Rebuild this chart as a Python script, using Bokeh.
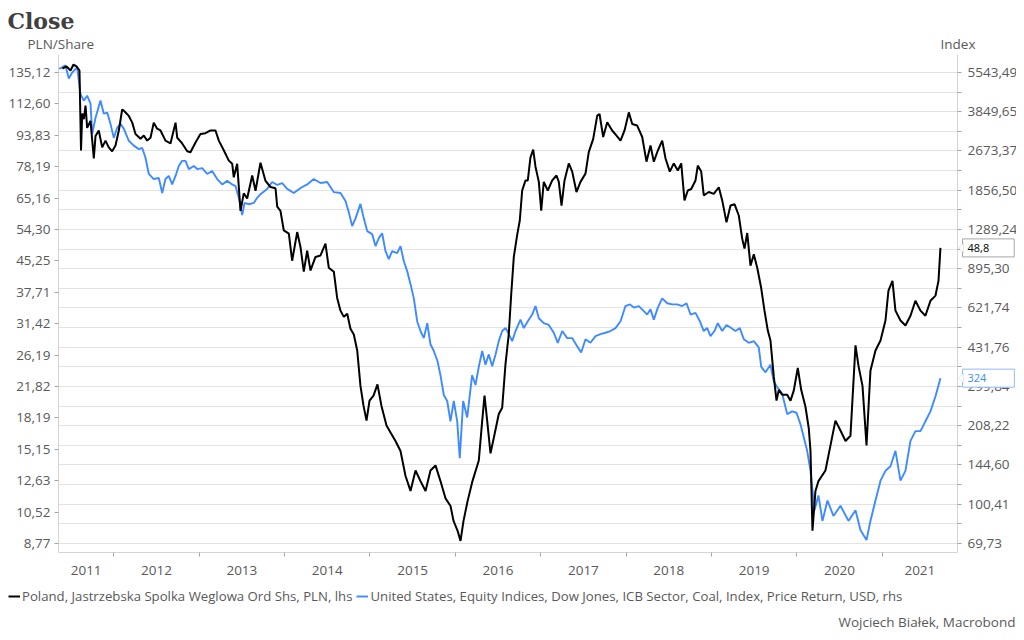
import math
from bokeh.plotting import figure
from bokeh.models import (Range1d, LogScale, LogAxis, FixedTicker, CustomJSTickFormatter,
                          Grid, Label, Legend, LegendItem, PolyAnnotation)
from bokeh.embed import file_html
from bokeh.resources import INLINE

# ---------------- data (decimal years, values) ----------------
jsw_t = [2011.399, 2011.446, 2011.493, 2011.528, 2011.563, 2011.598, 2011.616, 2011.630, 2011.649, 2011.669,
         2011.688, 2011.727, 2011.766, 2011.786, 2011.824, 2011.864, 2011.903, 2011.941, 2011.981, 2012.020,
         2012.059, 2012.098, 2012.117, 2012.149, 2012.176, 2012.216, 2012.254, 2012.313, 2012.351, 2012.391,
         2012.430, 2012.468, 2012.508, 2012.547, 2012.605, 2012.664, 2012.723, 2012.743, 2012.801, 2012.860,
         2012.898, 2012.957, 2013.015, 2013.074, 2013.133, 2013.191, 2013.230, 2013.288, 2013.347, 2013.387,
         2013.405, 2013.445, 2013.484, 2013.522, 2013.562, 2013.621, 2013.660, 2013.718, 2013.777, 2013.835,
         2013.894, 2013.914, 2013.952, 2013.991, 2014.050, 2014.089, 2014.148, 2014.187, 2014.225, 2014.265,
         2014.304, 2014.362, 2014.421, 2014.479, 2014.518, 2014.577, 2014.616, 2014.655, 2014.694, 2014.734,
         2014.772, 2014.811, 2014.851, 2014.889, 2014.925, 2014.960, 2014.995, 2015.042, 2015.088, 2015.135,
         2015.194, 2015.241, 2015.299, 2015.358, 2015.416, 2015.475, 2015.534, 2015.592, 2015.651, 2015.709,
         2015.768, 2015.826, 2015.885, 2015.944, 2015.979, 2016.026, 2016.061, 2016.096, 2016.143, 2016.201,
         2016.275, 2016.315, 2016.342, 2016.373, 2016.412, 2016.451, 2016.509, 2016.549, 2016.588, 2016.626,
         2016.655, 2016.685, 2016.725, 2016.755, 2016.783, 2016.822, 2016.849, 2016.880, 2016.912, 2016.939,
         2016.978, 2017.006, 2017.036, 2017.083, 2017.135, 2017.185, 2017.212, 2017.244, 2017.279, 2017.329,
         2017.369, 2017.419, 2017.466, 2017.525, 2017.563, 2017.615, 2017.662, 2017.689, 2017.732, 2017.779,
         2017.837, 2017.888, 2017.935, 2017.982, 2018.032, 2018.072, 2018.130, 2018.189, 2018.239, 2018.286,
         2018.325, 2018.372, 2018.423, 2018.462, 2018.512, 2018.559, 2018.606, 2018.646, 2018.684, 2018.723,
         2018.763, 2018.813, 2018.840, 2018.880, 2018.910, 2018.969, 2019.027, 2019.086, 2019.126, 2019.176,
         2019.223, 2019.270, 2019.320, 2019.360, 2019.387, 2019.419, 2019.457, 2019.496, 2019.536, 2019.583,
         2019.621, 2019.660, 2019.691, 2019.730, 2019.762, 2019.789, 2019.828, 2019.887, 2019.926, 2019.964,
         2020.011, 2020.051, 2020.101, 2020.140, 2020.160,
         2020.183, 2020.218, 2020.253, 2020.335, 2020.394, 2020.452, 2020.511, 2020.570, 2020.628, 2020.687,
         2020.722, 2020.769, 2020.816, 2020.862, 2020.921, 2020.980, 2021.038, 2021.073, 2021.120, 2021.155,
         2021.214, 2021.272, 2021.331, 2021.389, 2021.448, 2021.506, 2021.565, 2021.624, 2021.659, 2021.682]
jsw_v = [138.3, 140.0, 136.7, 141.5, 140.0, 136.7, 85.9, 106.5, 103.0, 111.5,
         98.0, 102.0, 82.0, 93.5, 96.5, 87.5, 91.0, 87.5, 85.5, 88.4,
         96.5, 109.0, 108.3, 106.5, 105.0, 101.0, 94.5, 92.0, 93.7, 91.0,
         92.5, 101.0, 97.5, 96.5, 91.0, 89.5, 101.0, 92.5, 89.5, 85.5,
         85.0, 90.0, 94.5, 95.0, 96.5, 96.5, 91.0, 86.0, 81.0, 79.5,
         73.5, 79.5, 60.5, 67.0, 65.0, 74.3, 68.0, 80.0, 72.0, 69.5,
         69.0, 62.0, 60.5, 54.0, 53.0, 45.3, 53.5, 49.0, 42.5, 48.0,
         42.8, 46.3, 46.7, 50.0, 43.5, 42.5, 36.5, 33.9, 32.7, 33.3,
         30.5, 29.5, 26.9, 21.9, 19.5, 17.9, 20.1, 20.7, 22.1, 19.5,
         17.4, 16.7, 15.9, 15.0, 13.0, 11.9, 13.4, 12.6, 11.9, 13.4,
         13.8, 12.6, 11.4, 10.9, 10.0, 9.45, 8.9, 10.0, 11.2, 12.6,
         14.2, 17.9, 20.7, 17.9, 14.8, 16.2, 18.6, 19.3, 24.9, 29.6,
         37.4, 46.3, 52.7, 57.2, 68.1, 72.2, 72.2, 82.5, 86.4, 78.2,
         71.6, 60.6, 71.6, 68.1, 72.2, 74.3, 71.6, 62.4, 72.2, 79.7,
         76.0, 67.5, 71.6, 75.2, 85.1, 91.9, 105.2, 106.2, 92.9, 101.2,
         96.5, 93.7, 91.0, 96.5, 107.2, 100.2, 99.3, 92.9, 80.5, 88.4,
         80.5, 85.9, 91.0, 82.0, 76.0, 79.7, 76.5, 79.7, 64.3, 68.1,
         68.7, 72.2, 78.7, 76.0, 66.2, 67.5, 66.8, 69.4, 64.3, 56.6,
         62.4, 62.9, 58.9, 51.5, 48.6, 53.2, 44.0, 47.0, 43.5, 38.6,
         33.9, 30.2, 28.5, 23.1, 20.1, 21.4, 20.8, 20.8, 20.1, 21.3,
         24.3, 21.4, 19.4, 17.1, 15.0,
         9.45, 11.9, 12.6, 13.4, 15.5, 17.9, 16.9, 15.9, 16.4, 27.7,
         24.6, 21.9, 15.5, 23.9, 26.9, 28.5, 32.0, 38.1, 40.3, 33.9,
         32.0, 31.1, 32.9, 35.9, 33.9, 32.9, 35.9, 37.0, 40.3, 48.8]

coal_t = [2011.352, 2011.376, 2011.434, 2011.473, 2011.513, 2011.571, 2011.610, 2011.649, 2011.688, 2011.727,
          2011.747, 2011.786, 2011.844, 2011.883, 2011.923, 2011.961, 2012.000, 2012.040, 2012.078, 2012.117,
          2012.176, 2012.234, 2012.293, 2012.333, 2012.371, 2012.410, 2012.468, 2012.527, 2012.567, 2012.605,
          2012.644, 2012.684, 2012.723, 2012.761, 2012.801, 2012.840, 2012.879, 2012.937, 2012.977, 2013.035,
          2013.094, 2013.152, 2013.211, 2013.270, 2013.328, 2013.387, 2013.425, 2013.464, 2013.504, 2013.531,
          2013.581, 2013.640, 2013.679, 2013.718, 2013.796, 2013.855, 2013.914, 2013.972, 2014.031, 2014.108,
          2014.187, 2014.265, 2014.342, 2014.421, 2014.499, 2014.576, 2014.655, 2014.714, 2014.752, 2014.792,
          2014.831, 2014.889, 2014.928, 2014.968, 2015.026, 2015.065, 2015.104, 2015.143, 2015.182, 2015.221,
          2015.260, 2015.319, 2015.358, 2015.397, 2015.436, 2015.475, 2015.514, 2015.553, 2015.592, 2015.631,
          2015.671, 2015.709, 2015.748, 2015.791,
          2015.826, 2015.865, 2015.905, 2015.943, 2015.982, 2016.022, 2016.052, 2016.092, 2016.139, 2016.197,
          2016.236, 2016.275, 2016.315, 2016.353, 2016.392, 2016.432, 2016.471, 2016.509, 2016.549, 2016.588,
          2016.626, 2016.666, 2016.705, 2016.763, 2016.802, 2016.849, 2016.900, 2016.939, 2016.978, 2017.036,
          2017.095, 2017.153, 2017.200, 2017.252, 2017.310, 2017.369, 2017.427, 2017.474, 2017.525, 2017.583,
          2017.642, 2017.700, 2017.759, 2017.817, 2017.876, 2017.935, 2017.993, 2018.044, 2018.091, 2018.149,
          2018.208, 2018.247, 2018.286, 2018.325, 2018.372, 2018.423, 2018.482, 2018.540, 2018.599, 2018.657,
          2018.708, 2018.755, 2018.813, 2018.864, 2018.910, 2018.950, 2018.989, 2019.035, 2019.074, 2019.126,
          2019.176, 2019.231, 2019.281, 2019.332, 2019.379, 2019.437, 2019.496, 2019.554, 2019.583, 2019.633,
          2019.691, 2019.730, 2019.770, 2019.828, 2019.887, 2019.945, 2019.996, 2020.043, 2020.081, 2020.121,
          2020.160, 2020.207, 2020.253, 2020.300, 2020.359, 2020.429, 2020.511, 2020.605, 2020.687, 2020.745,
          2020.816, 2020.862, 2020.921, 2020.980, 2021.038, 2021.097, 2021.155, 2021.214, 2021.272, 2021.331,
          2021.389, 2021.448, 2021.506, 2021.565, 2021.624, 2021.682]
coal_v = [5760, 5760, 5920, 5240, 5543, 5810, 4540, 4270, 4470, 4150,
          3140, 3640, 4270, 3780, 3820, 3440, 3020, 3320, 3440, 3290,
          2940, 2810, 2720, 2750, 2510, 2160, 2060, 2080, 1810, 2060,
          2120, 1960, 2120, 2325, 2440, 2440, 2260, 2325, 2260, 2280,
          2160, 2220, 2060, 1960, 2025, 1960, 1930, 1730, 1475, 1650,
          1630, 1650, 1730, 1790, 1880, 2005, 1950, 1985, 1880, 1810,
          1895, 1960, 2060, 1985, 2005, 1825, 1810, 1680, 1515, 1330,
          1430, 1635, 1430, 1270, 1235, 1105, 1190, 1245, 1055, 980,
          1055, 1035, 1105, 960, 876, 776, 680, 550, 502, 470,
          540, 444, 417, 380,
          333, 277, 262, 217, 262, 217, 154, 262, 225, 333,
          304, 360, 417, 367, 404, 362, 404, 457, 502, 516,
          488, 457, 502, 558, 516, 550, 585, 633, 565, 540,
          531, 494, 450, 502, 470, 470, 436, 411, 465, 450,
          479, 488, 494, 502, 516, 550, 633, 643, 624, 633,
          604, 585, 614, 558, 624, 680, 650, 643, 643, 633,
          650, 585, 594, 550, 502, 516, 479, 502, 540, 502,
          531, 516, 502, 516, 465, 450, 457, 431, 360, 342,
          367, 315, 298, 281, 232, 238, 235, 211, 187, 165,
          137, 95, 109, 86, 104, 90, 99, 86, 95, 79,
          72, 86, 104, 125, 137, 143, 165, 125, 137, 181,
          198, 198, 217, 238, 274, 324]

lhs_ticks = [8.77, 10.52, 12.63, 15.15, 18.19, 21.82, 26.19, 31.42, 37.71, 45.25,
             54.30, 65.16, 78.19, 93.83, 112.60, 135.12]
rhs_ticks = [69.73, 100.41, 144.60, 208.22, 299.84, 431.76, 621.74, 895.30, 1289.24,
             1856.50, 2673.37, 3849.65, 5543.49]
years = list(range(2011, 2022))

title_text = "Close"
lhs_unit = "PLN/Share"
rhs_unit = "Index"
jsw_name = "Poland, Jastrzebska Spolka Weglowa Ord Shs, PLN, lhs"
coal_name = "United States, Equity Indices, Dow Jones, ICB Sector, Coal, Index, Price Return, USD, rhs"
source_text = "Wojciech Białek, Macrobond"

# ---------------- styling / geometry ----------------
BLUE = "#3D8BFF"
GRID = "#E3E3E3"
AXIS = "#D4D4D4"
TICK = "#A6A6A6"
TXT = "#595959"
FONT = "Open Sans"
FS = "13.5px"

W, H = 1016, 632
PL, PR, PT, PB = 58.0, 957.0, 54.0, 552.0      # plot box (pixels)

# pixel calibration of the scales
def px_to_t(px):
    return 2012.0 + (px - 113.3) / 85.38

L_SPAN = (72.0, 543.0)

def px_to_log(px, top_v, bot_v):
    a, b = math.log10(top_v), math.log10(bot_v)
    return 10 ** (a + (px - L_SPAN[0]) * (b - a) / (L_SPAN[1] - L_SPAN[0]))

def log_to_px(v, top_v, bot_v):
    a, b = math.log10(top_v), math.log10(bot_v)
    return L_SPAN[0] + (math.log10(v) - a) / (b - a) * (L_SPAN[1] - L_SPAN[0])

def lv(px):
    return px_to_log(px, lhs_ticks[-1], lhs_ticks[0])

def rv(px):
    return px_to_log(px, rhs_ticks[-1], rhs_ticks[0])

n1 = min(len(jsw_t), len(jsw_v))
n2 = min(len(coal_t), len(coal_v))

p = figure(width=W, height=H, output_backend="svg", toolbar_location=None,
           x_range=Range1d(px_to_t(0), px_to_t(W)), y_range=Range1d(lv(H), lv(0)),
           y_axis_type="log", min_border=0, min_border_left=0, min_border_right=0,
           min_border_top=0, min_border_bottom=0)
p.extra_y_ranges = {"rhs": Range1d(rv(H), rv(0))}
p.extra_y_scales = {"rhs": LogScale()}
p.title.visible = False
p.outline_line_color = None
p.background_fill_color = "white"
p.border_fill_color = "white"
p.xgrid.visible = False
p.ygrid.visible = False

# left axis (fixed inside the canvas)
la = p.yaxis[0]
la.ticker = FixedTicker(ticks=lhs_ticks)
la.formatter = CustomJSTickFormatter(code="return tick.toFixed(2).replace('.', ',');")
la.fixed_location = px_to_t(PL)
la.bounds = (lv(PB), lv(PT))

# right axis
rhs_minor = [(a * b) ** 0.5 for a, b in zip(rhs_ticks[:-1], rhs_ticks[1:])]
ra = LogAxis(y_range_name="rhs", ticker=FixedTicker(ticks=rhs_ticks, minor_ticks=rhs_minor),
             formatter=CustomJSTickFormatter(code="return tick.toFixed(2).replace('.', ',');"))
ra.fixed_location = px_to_t(PR)
ra.bounds = (rv(PB), rv(PT))
p.add_layout(ra, "right")

for ax in (la, ra):
    ax.axis_line_color = AXIS
    ax.major_tick_line_color = TICK
    ax.minor_tick_line_color = TICK
    ax.major_tick_in = 0
    ax.major_tick_out = 4
    ax.minor_tick_in = 0
    ax.major_label_text_font = FONT
    ax.major_label_text_font_size = FS
    ax.major_label_text_color = TXT
la.minor_tick_out = 0
la.major_label_standoff = 4
ra.minor_tick_out = 4
ra.major_label_standoff = 6

# x axis: year boundaries as ticks, labels centred in the visible part of each year
xa = p.xaxis[0]
x0, x1 = px_to_t(PL), px_to_t(PR)
bounds = [float(y) for y in years[1:]]
edges = [x0] + bounds + [x1]
centers = [(a + b) / 2 for a, b in zip(edges[:-1], edges[1:])]
xa.ticker = FixedTicker(ticks=centers, minor_ticks=bounds)
xa.formatter = CustomJSTickFormatter(code="return Math.floor(tick).toString();")
xa.fixed_location = lv(PB)
xa.bounds = (x0, x1)
xa.axis_line_color = AXIS
xa.major_tick_in = 0
xa.major_tick_out = 0
xa.minor_tick_in = 0
xa.minor_tick_out = 4
xa.minor_tick_line_color = TICK
xa.major_label_standoff = 9
xa.major_label_text_font = FONT
xa.major_label_text_font_size = FS
xa.major_label_text_color = TXT

# gridlines follow the right axis (major + minor)
grid = Grid(dimension=1, y_range_name="rhs",
            ticker=FixedTicker(ticks=sorted(rhs_ticks + rhs_minor)),
            grid_line_color=GRID, grid_line_width=1)
try:
    grid.cross_bounds = (x0, x1)
except Exception:
    pass
p.add_layout(grid)

# series
r_coal = p.line(coal_t[:n2], coal_v[:n2], line_color=BLUE, line_width=1.9, y_range_name="rhs")
r_jsw = p.line(jsw_t[:n1], jsw_v[:n1], line_color="black", line_width=2)

# ---------------- texts ----------------
def lab(text, px, py, **kw):
    opts = dict(x=px, y=H - py, x_units="screen", y_units="screen", text=text,
                text_font=FONT, text_font_size=FS, text_color=TXT, text_baseline="middle")
    opts.update(kw)
    p.add_layout(Label(**opts))

lab(title_text, 7, 20, text_font="DejaVu Serif", text_font_style="bold",
    text_font_size="22px", text_color="#404040")
lab(lhs_unit, 27, 43)
lab(rhs_unit, 940, 43)
lab(source_text, 1015, 621, text_align="right")

# value callouts at right edge (box with a small pointer towards the axis)
def callout(val, txt, color, border, rng, py):
    kw = dict(x=x1, y=val, x_offset=5, text=txt, text_font=FONT, text_font_size="11px",
              text_color=color, text_baseline="middle", background_fill_color="white",
              border_line_color=border, border_line_width=1)
    if rng:
        kw["y_range_name"] = rng
    lbl = Label(**kw)
    tw = sum(6.3 if ch.isdigit() else 2.8 for ch in txt)
    right = int(round(W - 2 - (PR + 10) - tw))
    for pad in ((5, right, 5, 5), dict(left=5, right=right, top=5, bottom=5), 5):
        try:
            lbl.padding = pad
            break
        except Exception:
            continue
    p.add_layout(lbl)
    try:
        p.add_layout(PolyAnnotation(xs=[PR + 6, PR + 1, PR + 6], ys=[H - py + 5, H - py, H - py - 5],
                                    xs_units="screen", ys_units="screen",
                                    fill_color="white", fill_alpha=1.0,
                                    line_color=border, line_width=1))
    except Exception:
        pass

callout(jsw_v[n1 - 1], f"{jsw_v[n1 - 1]:.1f}".replace(".", ","), "black", "#A6A6A6", None,
        log_to_px(jsw_v[n1 - 1], lhs_ticks[-1], lhs_ticks[0]))
callout(coal_v[n2 - 1], f"{coal_v[n2 - 1]:.0f}", BLUE, "#8DBBFF", "rhs",
        log_to_px(coal_v[n2 - 1], rhs_ticks[-1], rhs_ticks[0]))

# legend below the plot
legend = Legend(items=[LegendItem(label=jsw_name, renderers=[r_jsw]),
                       LegendItem(label=coal_name, renderers=[r_coal])],
                orientation="horizontal", location=(8, H - 596 - 9),
                glyph_width=12, glyph_height=12, label_height=12, label_standoff=2, spacing=4,
                padding=0, margin=0, label_text_font=FONT, label_text_font_size="13.2px",
                label_text_color=TXT, border_line_alpha=0, background_fill_alpha=0)
p.add_layout(legend)

open("out.html", "w").write(file_html(p, INLINE))
